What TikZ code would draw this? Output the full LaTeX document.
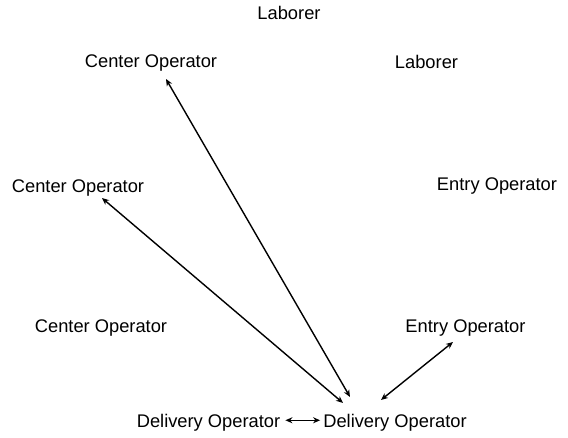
\documentclass[tikz,border=0pt]{standalone}
\usepackage{fontspec}
\setmainfont{Liberation Sans}
\usetikzlibrary{arrows.meta,calc}
\begin{document}
\begin{tikzpicture}[x=1pt,y=1pt,
  lbl/.style={inner sep=0pt, anchor=base, font=\fontsize{18.3}{22}\selectfont},
  link/.style={line width=1.4pt, {Stealth[length=7pt,width=6pt]}-{Stealth[length=7pt,width=6pt]}}]
\useasboundingbox (0,0) rectangle (568,-437);
\node[lbl] (lab1) at (289,-19.5) {Laborer};
\node[lbl] (co1) at (151,-67) {Center Operator};
\node[lbl] (lab2) at (426.5,-68) {Laborer};
\node[lbl] (co2) at (78,-192) {Center Operator};
\node[lbl] (eo1) at (497,-190) {Entry Operator};
\node[lbl] (co3) at (101,-332) {Center Operator};
\node[lbl] (eo2) at (465.5,-332) {Entry Operator};
\node[lbl] (dl) at (208.5,-427) {Delivery Operator};
\node[lbl] (dr) at (395,-427) {Delivery Operator};
\draw[link] ($(co1.south)+(15,-8)$) -- ($(dr.north)+(-45,16.6)$);
\draw[link] ($(co2.south)+(24,-2)$) -- ($(dr.north)+(-52,10.6)$);
\draw[link] ($(eo2.south)+(-12.5,-6)$) -- ($(dr.north)+(-14,13.6)$);
\draw[link] ($(dl.east)+(5,2)$) -- ($(dr.west)+(-3,2)$);
\end{tikzpicture}
\end{document}
